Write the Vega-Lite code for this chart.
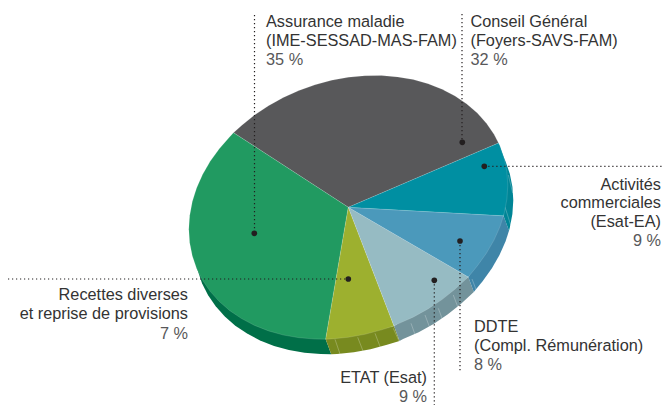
{
"$schema":"https://vega.github.io/schema/vega-lite/v6.json",
"width":662,"height":405,"padding":0,"autosize":"none",
"background":"white",
"config":{"view":{"stroke":null}},
"datasets":{
"walls":[
{"part":"Recettes","i":0,"x":325.7,"y":339.2},{"part":"Recettes","i":1,"x":331.2,"y":354.2},{"part":"Recettes","i":2,"x":320.6,"y":354.05},{"part":"Recettes","i":3,"x":304.5,"y":352.7},{"part":"Recettes","i":4,"x":288.9,"y":350.05},{"part":"Recettes","i":5,"x":274.05,"y":345.9},{"part":"Recettes","i":6,"x":260.05,"y":340.4},{"part":"Recettes","i":7,"x":247.1,"y":333.6},{"part":"Recettes","i":8,"x":235.3,"y":325.65},{"part":"Recettes","i":9,"x":224.8,"y":316.5},{"part":"Recettes","i":10,"x":215.7,"y":306.35},{"part":"Recettes","i":11,"x":208.1,"y":295.3},{"part":"Recettes","i":12,"x":202.1,"y":283.4},{"part":"Recettes","i":13,"x":197.8,"y":270.8},{"part":"Recettes","i":14,"x":195.2,"y":257.8},{"part":"Recettes","i":15,"x":194.3,"y":244.3},
{"part":"ETAT","i":0,"x":325.7,"y":339.2},{"part":"ETAT","i":1,"x":331.2,"y":354.2},{"part":"ETAT","i":2,"x":337.1,"y":353.9},{"part":"ETAT","i":3,"x":353.8,"y":352.3},{"part":"ETAT","i":4,"x":370.5,"y":349.3},{"part":"ETAT","i":5,"x":387,"y":344.85},{"part":"ETAT","i":6,"x":399.5,"y":341},{"part":"ETAT","i":7,"x":394,"y":326},
{"part":"DDTE","i":0,"x":394,"y":326},{"part":"DDTE","i":1,"x":399.5,"y":341},{"part":"DDTE","i":2,"x":403.1,"y":339.1},{"part":"DDTE","i":3,"x":418.7,"y":332.15},{"part":"DDTE","i":4,"x":433.55,"y":323.9},{"part":"DDTE","i":5,"x":447.55,"y":314.6},{"part":"DDTE","i":6,"x":460.5,"y":304.2},{"part":"DDTE","i":7,"x":473.8,"y":292},{"part":"DDTE","i":8,"x":468.3,"y":277},
{"part":"Bleu","i":0,"x":468.3,"y":277},{"part":"Bleu","i":1,"x":473.8,"y":292},{"part":"Bleu","i":2,"x":482.8,"y":280.9},{"part":"Bleu","i":3,"x":491.9,"y":268.25},{"part":"Bleu","i":4,"x":499.5,"y":255.1},{"part":"Bleu","i":5,"x":505.5,"y":241.6},{"part":"Bleu","i":6,"x":509,"y":230.8},{"part":"Bleu","i":7,"x":503.5,"y":215.8},
{"part":"Activites","i":0,"x":503.5,"y":215.8},{"part":"Activites","i":1,"x":509,"y":230.8},{"part":"Activites","i":2,"x":509.8,"y":227.8},{"part":"Activites","i":3,"x":512.4,"y":214},{"part":"Activites","i":4,"x":513.3,"y":200.3},{"part":"Activites","i":5,"x":512.4,"y":186.8},{"part":"Activites","i":6,"x":509.8,"y":173.8},{"part":"Activites","i":7,"x":505.5,"y":161.2},{"part":"Activites","i":8,"x":504,"y":158},{"part":"Activites","i":9,"x":498.5,"y":143}
],
"faces":[
{"part":"Assurance","i":0,"x":348.3,"y":207.3},{"part":"Assurance","i":1,"x":498.5,"y":143},{"part":"Assurance","i":2,"x":494,"y":134.3},{"part":"Assurance","i":3,"x":486.4,"y":123.25},{"part":"Assurance","i":4,"x":477.3,"y":113.1},{"part":"Assurance","i":5,"x":466.8,"y":103.95},{"part":"Assurance","i":6,"x":455,"y":96},{"part":"Assurance","i":7,"x":442.05,"y":89.2},{"part":"Assurance","i":8,"x":428.05,"y":83.7},{"part":"Assurance","i":9,"x":413.2,"y":79.55},{"part":"Assurance","i":10,"x":397.6,"y":76.9},{"part":"Assurance","i":11,"x":381.5,"y":75.55},{"part":"Assurance","i":12,"x":365,"y":75.7},{"part":"Assurance","i":13,"x":348.3,"y":77.3},{"part":"Assurance","i":14,"x":331.6,"y":80.3},{"part":"Assurance","i":15,"x":315.1,"y":84.75},{"part":"Assurance","i":16,"x":299,"y":90.5},{"part":"Assurance","i":17,"x":283.4,"y":97.45},{"part":"Assurance","i":18,"x":268.55,"y":105.7},{"part":"Assurance","i":19,"x":254.55,"y":115},{"part":"Assurance","i":20,"x":241.6,"y":125.4},{"part":"Assurance","i":21,"x":233.5,"y":132.7},{"part":"Assurance","i":22,"x":348.3,"y":207.3},
{"part":"Recettes","i":0,"x":348.3,"y":207.3},{"part":"Recettes","i":1,"x":233.5,"y":132.7},{"part":"Recettes","i":2,"x":229.8,"y":136.65},{"part":"Recettes","i":3,"x":219.3,"y":148.7},{"part":"Recettes","i":4,"x":210.2,"y":161.35},{"part":"Recettes","i":5,"x":202.6,"y":174.5},{"part":"Recettes","i":6,"x":196.6,"y":188},{"part":"Recettes","i":7,"x":192.3,"y":201.8},{"part":"Recettes","i":8,"x":189.7,"y":215.6},{"part":"Recettes","i":9,"x":188.8,"y":229.3},{"part":"Recettes","i":10,"x":189.7,"y":242.8},{"part":"Recettes","i":11,"x":192.3,"y":255.8},{"part":"Recettes","i":12,"x":196.6,"y":268.4},{"part":"Recettes","i":13,"x":202.6,"y":280.3},{"part":"Recettes","i":14,"x":210.2,"y":291.35},{"part":"Recettes","i":15,"x":219.3,"y":301.5},{"part":"Recettes","i":16,"x":229.8,"y":310.65},{"part":"Recettes","i":17,"x":241.6,"y":318.6},{"part":"Recettes","i":18,"x":254.55,"y":325.4},{"part":"Recettes","i":19,"x":268.55,"y":330.9},{"part":"Recettes","i":20,"x":283.4,"y":335.05},{"part":"Recettes","i":21,"x":299,"y":337.7},{"part":"Recettes","i":22,"x":315.1,"y":339.05},{"part":"Recettes","i":23,"x":325.7,"y":339.2},{"part":"Recettes","i":24,"x":348.3,"y":207.3},
{"part":"ETAT","i":0,"x":348.3,"y":207.3},{"part":"ETAT","i":1,"x":325.7,"y":339.2},{"part":"ETAT","i":2,"x":331.6,"y":338.9},{"part":"ETAT","i":3,"x":348.3,"y":337.3},{"part":"ETAT","i":4,"x":365,"y":334.3},{"part":"ETAT","i":5,"x":381.5,"y":329.85},{"part":"ETAT","i":6,"x":394,"y":326},{"part":"ETAT","i":7,"x":348.3,"y":207.3},
{"part":"DDTE","i":0,"x":348.3,"y":207.3},{"part":"DDTE","i":1,"x":394,"y":326},{"part":"DDTE","i":2,"x":397.6,"y":324.1},{"part":"DDTE","i":3,"x":413.2,"y":317.15},{"part":"DDTE","i":4,"x":428.05,"y":308.9},{"part":"DDTE","i":5,"x":442.05,"y":299.6},{"part":"DDTE","i":6,"x":455,"y":289.2},{"part":"DDTE","i":7,"x":468.3,"y":277},{"part":"DDTE","i":8,"x":348.3,"y":207.3},
{"part":"Bleu","i":0,"x":348.3,"y":207.3},{"part":"Bleu","i":1,"x":468.3,"y":277},{"part":"Bleu","i":2,"x":477.3,"y":265.9},{"part":"Bleu","i":3,"x":486.4,"y":253.25},{"part":"Bleu","i":4,"x":494,"y":240.1},{"part":"Bleu","i":5,"x":500,"y":226.6},{"part":"Bleu","i":6,"x":503.5,"y":215.8},{"part":"Bleu","i":7,"x":348.3,"y":207.3},
{"part":"Activites","i":0,"x":348.3,"y":207.3},{"part":"Activites","i":1,"x":503.5,"y":215.8},{"part":"Activites","i":2,"x":504.3,"y":212.8},{"part":"Activites","i":3,"x":506.9,"y":199},{"part":"Activites","i":4,"x":507.8,"y":185.3},{"part":"Activites","i":5,"x":506.9,"y":171.8},{"part":"Activites","i":6,"x":504.3,"y":158.8},{"part":"Activites","i":7,"x":500,"y":146.2},{"part":"Activites","i":8,"x":498.5,"y":143},{"part":"Activites","i":9,"x":348.3,"y":207.3}
],
"folds":[
{"x":335,"y":339.3,"x2":340,"y2":354},{"x":357.7,"y":337.3,"x2":363.3,"y2":351.7},{"x":375,"y":333.3,"x2":380.7,"y2":348.3},{"x":393.3,"y":328.3,"x2":399.3,"y2":341.7},
{"x":411,"y":323.3,"x2":416,"y2":337.3},{"x":425,"y":315,"x2":430,"y2":328.3},{"x":438.3,"y":308.3,"x2":443.3,"y2":321.7},{"x":453.3,"y":295,"x2":458.3,"y2":308.3},{"x":472,"y":279,"x2":477,"y2":292},
{"x":508.3,"y":175,"x2":512.7,"y2":193},{"x":505,"y":207,"x2":511,"y2":226}
],
"leaders":[
{"x":254.5,"y":15,"x2":254.5,"y2":233.3},
{"x":462,"y":14,"x2":462,"y2":142.3},
{"x":484.3,"y":166.3,"x2":662,"y2":166.3},
{"x":460,"y":241,"x2":460,"y2":372},
{"x":434.3,"y":280.3,"x2":434.3,"y2":405},
{"x":8,"y":279,"x2":348.3,"y2":279}
],
"dots":[
{"x":254.3,"y":233.3},{"x":462.3,"y":142.3},{"x":484.3,"y":166.3},{"x":460,"y":241},{"x":434.3,"y":280.3},{"x":348.3,"y":279}
],
"leftText":[
{"x":266,"y":27,"t":"Assurance maladie","k":"label"},
{"x":266,"y":45.5,"t":"(IME-SESSAD-MAS-FAM)","k":"label"},
{"x":266,"y":65,"t":"35 %","k":"value"},
{"x":470.5,"y":27,"t":"Conseil Général","k":"label"},
{"x":470.5,"y":45.5,"t":"(Foyers-SAVS-FAM)","k":"label"},
{"x":470.5,"y":65,"t":"32 %","k":"value"},
{"x":474,"y":332,"t":"DDTE","k":"label"},
{"x":474,"y":350.5,"t":"(Compl. Rémunération)","k":"label"},
{"x":474,"y":370,"t":"8 %","k":"value"}
],
"rightText":[
{"x":661,"y":189.5,"t":"Activités","k":"label"},
{"x":661,"y":208,"t":"commerciales","k":"label"},
{"x":661,"y":226.5,"t":"(Esat-EA)","k":"label"},
{"x":661,"y":246,"t":"9 %","k":"value"},
{"x":188,"y":300,"t":"Recettes diverses","k":"label"},
{"x":188,"y":319,"t":"et reprise de provisions","k":"label"},
{"x":188,"y":339,"t":"7 %","k":"value"},
{"x":427,"y":383,"t":"ETAT (Esat)","k":"label"},
{"x":427,"y":401.5,"t":"9 %","k":"value"}
]
},
"encoding":{
"x":{"field":"x","type":"quantitative","axis":null,"scale":{"domain":[0,662],"nice":false,"zero":false}},
"y":{"field":"y","type":"quantitative","axis":null,"scale":{"domain":[405,0],"nice":false,"zero":false}}
},
"layer":[
{"data":{"name":"walls"},
 "mark":{"type":"line","strokeWidth":0,"interpolate":"linear"},
 "encoding":{"detail":{"field":"part"},"order":{"field":"i"},
  "fill":{"field":"part","type":"nominal","legend":null,"scale":{"domain":["Assurance","Activites","Bleu","DDTE","ETAT","Recettes"],"range":["#58585a","#008596","#3f85a8","#73939b","#788a1f","#006f48"]}}}},
{"data":{"name":"folds"},
 "mark":{"type":"rule","stroke":"#ffffff","strokeOpacity":0.35,"strokeWidth":0.7},
 "encoding":{"x2":{"field":"x2"},"y2":{"field":"y2"}}},
{"data":{"name":"faces"},
 "mark":{"type":"line","stroke":"#ffffff","strokeOpacity":0.22,"strokeWidth":0.6,"interpolate":"linear"},
 "encoding":{"detail":{"field":"part"},"order":{"field":"i"},
  "fill":{"field":"part","type":"nominal","legend":null,"scale":{"domain":["Assurance","Activites","Bleu","DDTE","ETAT","Recettes"],"range":["#58585a","#008fa2","#4b99bb","#96bbc3","#9db02f","#219a61"]}}}},
{"data":{"name":"leaders"},
 "mark":{"type":"rule","stroke":"#231f20","strokeWidth":1.2,"strokeDash":[1.2,2.8]},
 "encoding":{"x2":{"field":"x2"},"y2":{"field":"y2"}}},
{"data":{"name":"dots"},
 "mark":{"type":"point","filled":true,"fill":"#231f20","size":32,"opacity":1}},
{"data":{"name":"leftText"},
 "mark":{"type":"text","align":"left","baseline":"alphabetic","font":"Liberation Sans","fontSize":16.3},
 "encoding":{"text":{"field":"t"},"color":{"field":"k","type":"nominal","legend":null,"scale":{"domain":["label","value"],"range":["#333333","#58585a"]}}}},
{"data":{"name":"rightText"},
 "mark":{"type":"text","align":"right","baseline":"alphabetic","font":"Liberation Sans","fontSize":16.3},
 "encoding":{"text":{"field":"t"},"color":{"field":"k","type":"nominal","legend":null,"scale":{"domain":["label","value"],"range":["#333333","#58585a"]}}}}
],
"resolve":{"scale":{"fill":"independent"}}
}
